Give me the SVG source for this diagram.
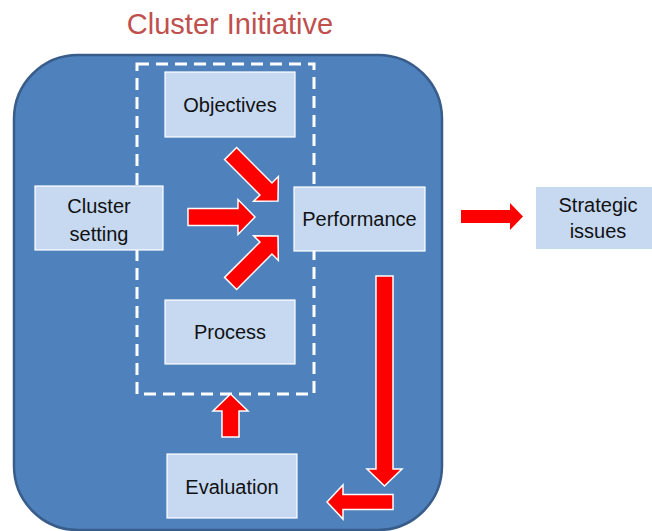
<svg xmlns="http://www.w3.org/2000/svg" width="652" height="531" viewBox="0 0 652 531">
  <defs>
    <style>
      .box { fill: #c6d9f1; stroke: #ffffff; stroke-width: 1.2; }
      .lbl { font-family: "Liberation Sans", Arial, sans-serif; font-size: 20px; fill: #111111; text-anchor: middle; }
      .arrow { fill: #ff0000; stroke: #ffffff; stroke-width: 1.5; stroke-linejoin: miter; }
    </style>
    <!-- block arrow pointing right, tail at x=0 -->
    <path id="blk" d="M0,-8.5 H50 V-17.5 L67,0 L50,17.5 V8.5 H0 Z"/>
  </defs>

  <rect width="652" height="531" fill="#ffffff"/>

  <text x="230" y="34" font-family="Liberation Sans, Arial, sans-serif" font-size="29" fill="#c0504d" text-anchor="middle">Cluster Initiative</text>

  <!-- initiative container -->
  <g id="initiative">
    <rect x="14" y="55" width="428" height="475" rx="64" ry="64" fill="#4f81bd" stroke="#385d8a" stroke-width="2.5"/>
    <rect x="137" y="64" width="177" height="330" fill="none" stroke="#ffffff" stroke-width="3" stroke-dasharray="12 7"/>
  </g>

  <g id="objectives">
    <rect class="box" x="165" y="72" width="130" height="65"/>
    <text class="lbl" x="230" y="112">Objectives</text>
  </g>

  <g id="cluster-setting">
    <rect class="box" x="35" y="186" width="128" height="64"/>
    <text class="lbl" x="99" y="213">Cluster</text>
    <text class="lbl" x="99" y="241">setting</text>
  </g>

  <g id="performance">
    <rect class="box" x="294" y="187" width="131" height="64"/>
    <text class="lbl" x="359.5" y="226">Performance</text>
  </g>

  <g id="process">
    <rect class="box" x="165" y="300" width="130" height="64"/>
    <text class="lbl" x="230" y="339">Process</text>
  </g>

  <g id="evaluation">
    <rect class="box" x="167" y="454" width="130" height="64"/>
    <text class="lbl" x="232" y="494">Evaluation</text>
  </g>

  <g id="strategic-issues">
    <rect x="536" y="187" width="120" height="62" fill="#c6d9f1"/>
    <text class="lbl" x="598" y="212">Strategic</text>
    <text class="lbl" x="598" y="238">issues</text>
  </g>

  <g id="connectors">
    <use href="#blk" class="arrow" transform="translate(230.6,153.6) rotate(45)"/>
    <use href="#blk" class="arrow" transform="translate(188,217)"/>
    <use href="#blk" class="arrow" transform="translate(230.6,283.4) rotate(-45)"/>
    <path class="arrow" d="M376,276 H393 V469 H402 L384.5,486 L367,469 H376 Z"/>
    <path class="arrow" d="M393,494.5 H343 V485 L327,502 L343,519 V509.5 H393 Z"/>
    <path class="arrow" d="M222,437 V411 H213 L230.5,394 L248,411 H239 V437 Z"/>
    <path d="M461,210 H510 V203 L523,216.5 L510,230 V223 H461 Z" fill="#ff0000"/>
  </g>
</svg>
